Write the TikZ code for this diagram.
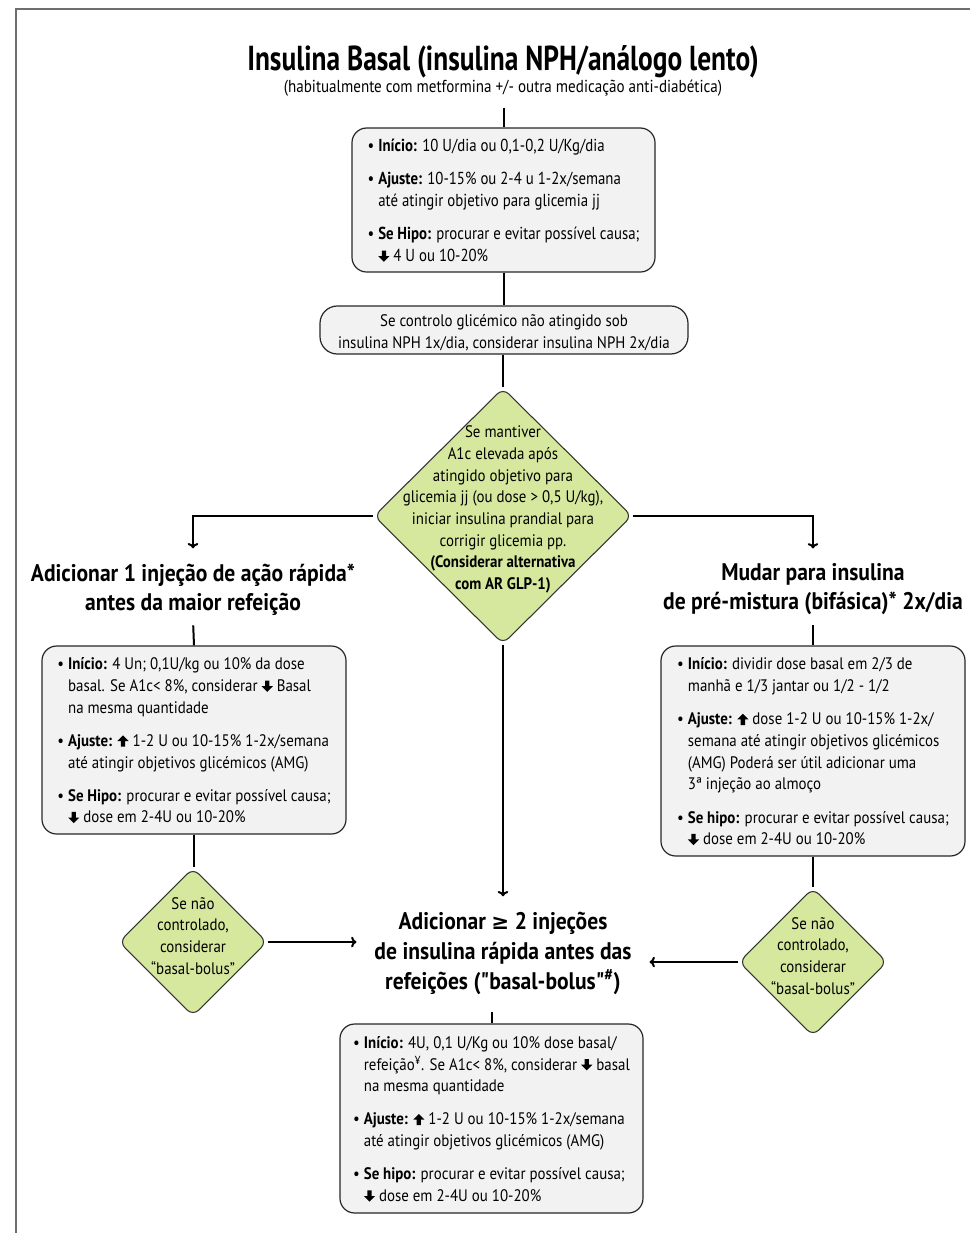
\documentclass[tikz,border=0pt]{standalone}
\usepackage{fontspec}
\usetikzlibrary{shapes.geometric,arrows.meta,calc}
\newfontfamily\bodyf{PT Sans}[FakeStretch=0.895]
\newfontfamily\condf{PT Sans}[FakeStretch=0.856]
\newfontfamily\subf{PT Sans}[FakeStretch=0.87]
\newfontfamily\headf{PT Sans}[FakeStretch=0.90]
\newfontfamily\maintf{PT Sans}[FakeStretch=0.79]
\newfontfamily\symf{DejaVu Sans}
\definecolor{dgreen}{RGB}{214,232,158}
\definecolor{boxfill}{RGB}{242,242,242}
\definecolor{framegray}{RGB}{110,110,110}
\newcommand{\dnar}{\tikz[baseline=0pt,x=1pt,y=1pt,sharp corners]\fill (-1.6,8.2)--(1.6,8.2)--(1.6,4)--(4.2,4)--(0,-0.2)--(-4.2,4)--(-1.6,4)--cycle;}
\newcommand{\upar}{\tikz[baseline=0pt,x=1pt,y=1pt,sharp corners]\fill (-1.6,-0.2)--(1.6,-0.2)--(1.6,4)--(4.2,4)--(0,8.2)--(-4.2,4)--(-1.6,4)--cycle;}
\newcommand{\topstrut}{\rule{0pt}{14.4pt}}
\tikzset{
  conn/.style={line width=1.5pt},
  arr/.style={line width=1.5pt,-{To[length=4pt,width=8pt]}},
  infobox/.style={draw=black!85, fill=boxfill, line width=0.9pt, rounded corners=11pt, inner sep=0pt},
  dia/.style={diamond, aspect=1, draw=black!80, fill=dgreen, line width=0.8pt, rounded corners=6pt, inner sep=0pt},
  maintitle/.style={font=\maintf\bfseries\fontsize{26}{30}\selectfont},
  head/.style={font=\headf\bfseries\fontsize{18}{21.75}\selectfont, align=center},
  bodytxt/.style={font=\bodyf\fontsize{12.5}{16.3}\selectfont},
  condtxt/.style={font=\condf\fontsize{13}{16.3}\selectfont},
}
\begin{document}
\begin{tikzpicture}[x=0.75pt,y=-0.75pt]
\useasboundingbox (0,0) rectangle (970,1233);
% frame
\draw[framegray, line width=1.5pt] (970,8.5) -- (15.5,8.5) -- (15.5,1233);

% title
\node[maintitle] (t0) at (503,62) {Insulina Basal (insulina NPH/análogo lento)};
\node[font=\subf\fontsize{13}{15}\selectfont] (t0s) at (503,88) {(habitualmente com metformina +/- outra medicação anti-diabética)};

% box 1
\node[infobox, minimum width=227.25pt, minimum height=108pt, condtxt] (b1) at (503.5,200) {%
\begin{tabular}{@{}l@{\hspace{3pt}}l@{}}
\topstrut•& \textbf{Início:} 10 U/dia ou 0,1-0,2 U/Kg/dia\\[8.8pt]
•& \textbf{Ajuste:} 10-15\% ou 2-4 u 1-2x/semana\\
 & até atingir objetivo para glicemia jj\\[8.8pt]
•& \textbf{Se Hipo:} procurar e evitar possível causa;\\
 & \dnar\ 4 U ou 10-20\%
\end{tabular}};

% box 2
\node[infobox, rounded corners=13pt, minimum width=276pt, minimum height=36pt, bodytxt, align=center] (b2) at (504,330) {\rule{0pt}{13pt}Se controlo glicémico não atingido sob\\insulina NPH 1x/dia, considerar insulina NPH 2x/dia};

% main diamond
\node[dia, minimum width=193.5pt, minimum height=192pt] (d0) at (503,516) {};
\node[bodytxt, align=center] (d0t) at (503,509.5) {Se mantiver\\A1c elevada após\\atingido objetivo para\\glicemia jj (ou dose > 0,5 U/kg),\\iniciar insulina prandial para\\corrigir glicemia pp.\\\textbf{(Considerar alternativa}\\\textbf{com AR GLP-1)}};

% left branch
\node[head] (lt) at (193,589.5) {Adicionar 1 injeção de ação rápida*\\antes da maior refeição};
\node[infobox, minimum width=228pt, minimum height=141pt, bodytxt] (lb) at (194,740) {%
\begin{tabular}{@{}l@{\hspace{3pt}}l@{}}
\topstrut•& \textbf{Início:} 4 Un; 0,1U/kg ou 10\% da dose\\
 & basal. Se A1c< 8\%, considerar \dnar\ Basal\\
 & na mesma quantidade\\[8.5pt]
•& \textbf{Ajuste:} \upar\ 1-2 U ou 10-15\% 1-2x/semana\\
 & até atingir objetivos glicémicos (AMG)\\[8.5pt]
•& \textbf{Se Hipo:} procurar e evitar possível causa;\\
 & \dnar\ dose em 2-4U ou 10-20\%
\end{tabular}};
\node[dia, minimum width=111pt, minimum height=111pt] (ld) at (193,942) {};
\node[bodytxt, align=center] (ldt) at (193,936) {Se não\\controlado,\\considerar\\“basal-bolus”};

% right branch
\node[head] (rt) at (813,589.5) {Mudar para insulina\\de pré-mistura (bifásica)* 2x/dia};
\node[infobox, minimum width=228pt, minimum height=157.5pt, bodytxt] (rb) at (813,751) {%
\begin{tabular}{@{}l@{\hspace{3pt}}l@{}}
\topstrut•& \textbf{Início:} dividir dose basal em 2/3 de\\
 & manhã e 1/3 jantar ou 1/2 - 1/2\\[8.5pt]
•& \textbf{Ajuste:} \upar\ dose 1-2 U ou 10-15\% 1-2x/\\
 & semana até atingir objetivos glicémicos\\
 & (AMG) Poderá ser útil adicionar uma\\
 & 3ª injeção ao almoço\\[8.5pt]
•& \textbf{Se hipo:} procurar e evitar possível causa;\\
 & \dnar\ dose em 2-4U ou 10-20\%
\end{tabular}};
\node[dia, minimum width=111pt, minimum height=111pt] (rd) at (813,962) {};
\node[bodytxt, align=center] (rdt) at (813,956) {Se não\\controlado,\\considerar\\“basal-bolus”};

% bottom
\node[head, font=\headf\bfseries\fontsize{18}{22.5}\selectfont] (bt) at (503,953) {Adicionar {\symf\fontsize{16}{16}\selectfont ≥} 2 injeções\\de insulina rápida antes das\\refeições ("basal-bolus"\textsuperscript{\#})};
\node[infobox, minimum width=227.25pt, minimum height=141.75pt, bodytxt] (bb) at (491.5,1118.5) {%
\begin{tabular}{@{}l@{\hspace{3pt}}l@{}}
\topstrut•& \textbf{Início:} 4U, 0,1 U/Kg ou 10\% dose basal/\\
 & refeição\textsuperscript{¥}. Se A1c< 8\%, considerar \dnar\ basal\\
 & na mesma quantidade\\[8.5pt]
•& \textbf{Ajuste:} \upar\ 1-2 U ou 10-15\% 1-2x/semana\\
 & até atingir objetivos glicémicos (AMG)\\[8.5pt]
•& \textbf{Se hipo:} procurar e evitar possível causa;\\
 & \dnar\ dose em 2-4U ou 10-20\%
\end{tabular}};

% connectors
\draw[conn, shorten <=5pt] (b1.north |- t0s.south) -- (b1.north);
\draw[conn] (b1.south) -- (b2.north -| b1.south);
\draw[conn] (d0.north |- b2.south) -- (d0.north);
\draw[arr, shorten >=8pt] (d0.west) -| (lt.north);
\draw[arr, shorten >=8pt] (d0.east) -| (rt.north);
\draw[conn, shorten <=4pt] (lt.south) -- (lb.north);
\draw[conn, shorten <=4pt] (rt.south) -- (rb.north);
\draw[conn] (lb.south) -- (ld.north -| lb.south);
\draw[conn] (rb.south) -- (rd.north);
\draw[arr, shorten >=8pt] (d0.south) -- (bt.north);
\draw[arr] (ld.east) -- ([xshift=-10pt]ld.east -| bt.west);
\draw[arr] (rd.west) -- ([xshift=10pt]rd.west -| bt.east);
\draw[conn, shorten <=10pt] (bt.south -| bb.north) -- (bb.north);
\end{tikzpicture}
\end{document}
